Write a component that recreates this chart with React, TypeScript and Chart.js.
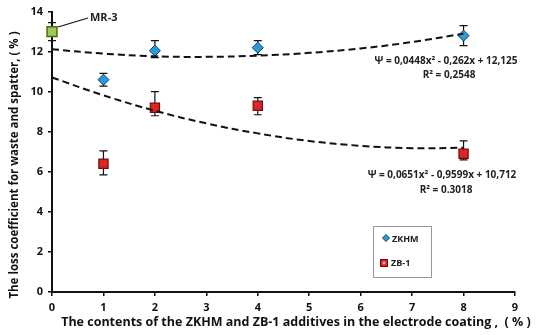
import React, { useEffect, useRef } from "react";
import { Chart, registerables } from "chart.js";
Chart.register(...registerables);

const xCategories = [1, 2, 4, 8];
const zkhmValues = [10.6, 12.05, 12.2, 12.8];
const zkhmErrUp = [0.32, 0.5, 0.35, 0.5];
const zkhmErrDown = [0.32, 0.35, 0.35, 0.5];
const zb1Values = [6.4, 9.2, 9.3, 6.9];
const zb1ErrUp = [0.65, 0.8, 0.4, 0.65];
const zb1ErrDown = [0.55, 0.4, 0.45, 0.3];
const mr3X = [0];
const mr3Values = [13.0];
const mr3ErrUp = [0.45];
const mr3ErrDown = [0.45];
const trendX = [0, 1, 2, 3, 4, 5, 6, 7, 8];
const zkhmTrend = [12.12, 11.9, 11.77, 11.74, 11.8, 11.94, 12.16, 12.48, 12.9];
const zb1Trend = [10.71, 9.82, 9.05, 8.42, 7.92, 7.54, 7.3, 7.18, 7.2];
const xTicks = [0, 1, 2, 3, 4, 5, 6, 7, 8, 9];
const yTicks = [0, 2, 4, 6, 8, 10, 12, 14];
const zkhmEquation = "\u03A8 = 0,0448x\u00B2 - 0,262x + 12,125";
const zkhmR2 = "R\u00B2 = 0,2548";
const zb1Equation = "\u03A8 = 0,0651x\u00B2 - 0,9599x + 10,712";
const zb1R2 = "R\u00B2 = 0.3018";
const mr3Label = "MR-3";
const legendLabels = ["ZKHM", "ZB-1"];
const xTitle = "The contents of the ZKHM and ZB-1 additives in the electrode coating ,  ( % )";
const yTitle = "The loss coefficient for waste and spatter, ( % )";

const FONT = "'Open Sans', 'Liberation Sans', sans-serif";

function drawDiamond(ctx: CanvasRenderingContext2D, x: number, y: number, r: number) {
  ctx.beginPath();
  ctx.moveTo(x, y - r);
  ctx.lineTo(x + r, y);
  ctx.lineTo(x, y + r);
  ctx.lineTo(x - r, y);
  ctx.closePath();
  ctx.fillStyle = "#2a9ad8";
  ctx.fill();
  ctx.strokeStyle = "#0d3f6e";
  ctx.lineWidth = 1;
  ctx.stroke();
}
function drawRedSquare(ctx: CanvasRenderingContext2D, x: number, y: number, r: number) {
  ctx.fillStyle = "#e02424";
  ctx.fillRect(x - r, y - r, 2 * r, 2 * r);
  ctx.strokeStyle = "#6b0f0f";
  ctx.lineWidth = 1;
  ctx.strokeRect(x - r, y - r, 2 * r, 2 * r);
  ctx.fillStyle = "rgba(255,200,200,0.9)";
  ctx.fillRect(x - r * 0.35, y - r * 0.35, r * 0.7, r * 0.7);
}

const customPlugin = {
  id: "custom",
  beforeDatasetsDraw(chart: any) {
    const ctx = chart.ctx as CanvasRenderingContext2D;
    const xs = chart.scales.x;
    const ys = chart.scales.y;
    const drawErr = (xv: number[], vals: number[], up: number[], down: number[]) => {
      ctx.save();
      ctx.strokeStyle = "#111";
      ctx.lineWidth = 1.2;
      xv.forEach((x, i) => {
        const px = xs.getPixelForValue(x);
        const t = ys.getPixelForValue(vals[i] + up[i]);
        const b = ys.getPixelForValue(vals[i] - down[i]);
        ctx.beginPath();
        ctx.moveTo(px, t);
        ctx.lineTo(px, b);
        ctx.moveTo(px - 4, t);
        ctx.lineTo(px + 4, t);
        ctx.moveTo(px - 4, b);
        ctx.lineTo(px + 4, b);
        ctx.stroke();
      });
      ctx.restore();
    };
    drawErr(xCategories, zkhmValues, zkhmErrUp, zkhmErrDown);
    drawErr(xCategories, zb1Values, zb1ErrUp, zb1ErrDown);
    drawErr(mr3X, mr3Values, mr3ErrUp, mr3ErrDown);
  },
  afterDraw(chart: any) {
    const ctx = chart.ctx as CanvasRenderingContext2D;
    ctx.save();
    // MR-3 leader and label
    ctx.strokeStyle = "#111";
    ctx.lineWidth = 1.2;
    ctx.beginPath();
    ctx.moveTo(58, 27);
    ctx.lineTo(88, 18);
    ctx.stroke();
    ctx.fillStyle = "#222";
    ctx.font = `bold 11px ${FONT}`;
    ctx.textAlign = "left";
    ctx.textBaseline = "middle";
    ctx.fillText(mr3Label, 90, 18);
    // equations
    ctx.font = `bold 10px ${FONT}`;
    ctx.textAlign = "center";
    ctx.fillText(zkhmEquation, 446, 61);
    ctx.fillText(zkhmR2, 449, 75);
    ctx.fillText(zb1Equation, 442, 175);
    ctx.fillText(zb1R2, 446, 190);
    // legend box
    ctx.strokeStyle = "#999";
    ctx.lineWidth = 1;
    ctx.strokeRect(373.5, 226.5, 58, 51);
    drawDiamond(ctx, 386, 238, 3.5);
    drawRedSquare(ctx, 384, 263, 3.5);
    ctx.fillStyle = "#222";
    ctx.font = `bold 9px ${FONT}`;
    ctx.textAlign = "left";
    ctx.fillText(legendLabels[0], 392, 239);
    ctx.fillText(legendLabels[1], 391, 263);
    // axis titles
    ctx.fillStyle = "#111";
    ctx.font = `bold 12.5px ${FONT}`;
    ctx.textAlign = "center";
    ctx.fillText(xTitle, 296, 322);
    ctx.save();
    ctx.translate(15, 165);
    ctx.rotate(-Math.PI / 2);
    ctx.font = `bold 11.5px ${FONT}`;
    ctx.fillText(yTitle, 0, 0);
    ctx.restore();
    ctx.restore();
  },
};

export default function App() {
  const ref = useRef<HTMLCanvasElement | null>(null);
  useEffect(() => {
    document.body.style.margin = "0";
    const canvas = ref.current!;
    const axisCommon = {
      grid: {
        display: true,
        drawOnChartArea: false,
        drawTicks: true,
        tickLength: 4,
        color: "#111",
        lineWidth: 1.5,
      },
      border: { display: true, color: "#111", width: 2 },
      ticks: {
        color: "#111",
        font: { family: FONT, size: 11, weight: "bold" },
        padding: 5,
      },
      title: { display: false },
    };
    const chart = new Chart(canvas, {
      type: "scatter",
      data: {
        datasets: [
          {
            label: "ZKHM trend",
            data: trendX.map((x, i) => ({ x, y: zkhmTrend[i] })),
            showLine: true,
            borderColor: "#111",
            borderWidth: 2,
            borderDash: [7, 4],
            pointRadius: 0,
            tension: 0.4,
            clip: false,
          },
          {
            label: "ZB-1 trend",
            data: trendX.map((x, i) => ({ x, y: zb1Trend[i] })),
            showLine: true,
            borderColor: "#111",
            borderWidth: 2,
            borderDash: [7, 4],
            pointRadius: 0,
            tension: 0.4,
            clip: false,
          },
          {
            label: legendLabels[0],
            data: xCategories.map((x, i) => ({ x, y: zkhmValues[i] })),
            pointStyle: "rectRot",
            pointRadius: 5.5,
            backgroundColor: "#2a9ad8",
            borderColor: "#0d3f6e",
            borderWidth: 1,
            clip: false,
          },
          {
            label: legendLabels[1],
            data: xCategories.map((x, i) => ({ x, y: zb1Values[i] })),
            pointStyle: "rect",
            pointRadius: 6.5,
            backgroundColor: "#e02424",
            borderColor: "#6b0f0f",
            borderWidth: 1.2,
            clip: false,
          },
          {
            label: mr3Label,
            data: mr3X.map((x, i) => ({ x, y: mr3Values[i] })),
            pointStyle: "rect",
            pointRadius: 7,
            backgroundColor: "#9ccc55",
            borderColor: "#4d6a1e",
            borderWidth: 1.5,
            clip: false,
          },
        ],
      },
      options: {
        animation: false,
        responsive: false,
        layout: { padding: { top: 10, right: 35, left: 0, bottom: 0 } },
        plugins: { legend: { display: false }, tooltip: { enabled: false } },
        scales: {
          x: {
            ...axisCommon,
            type: "linear",
            min: 0,
            max: 9,
            afterBuildTicks: (s: any) => {
              s.ticks = xTicks.map((v) => ({ value: v }));
            },
            afterFit: (s: any) => {
              s.height = 43;
            },
          },
          y: {
            ...axisCommon,
            type: "linear",
            min: 0,
            max: 14,
            afterBuildTicks: (s: any) => {
              s.ticks = yTicks.map((v) => ({ value: v }));
            },
            afterFit: (s: any) => {
              s.width = 52;
            },
          },
        },
      },
      plugins: [customPlugin],
    } as any);
    return () => chart.destroy();
  }, []);
  return (
    <div style={{ width: 550, height: 335, background: "#fff" }}>
      <canvas ref={ref} width={550} height={335} style={{ display: "block" }} />
    </div>
  );
}
